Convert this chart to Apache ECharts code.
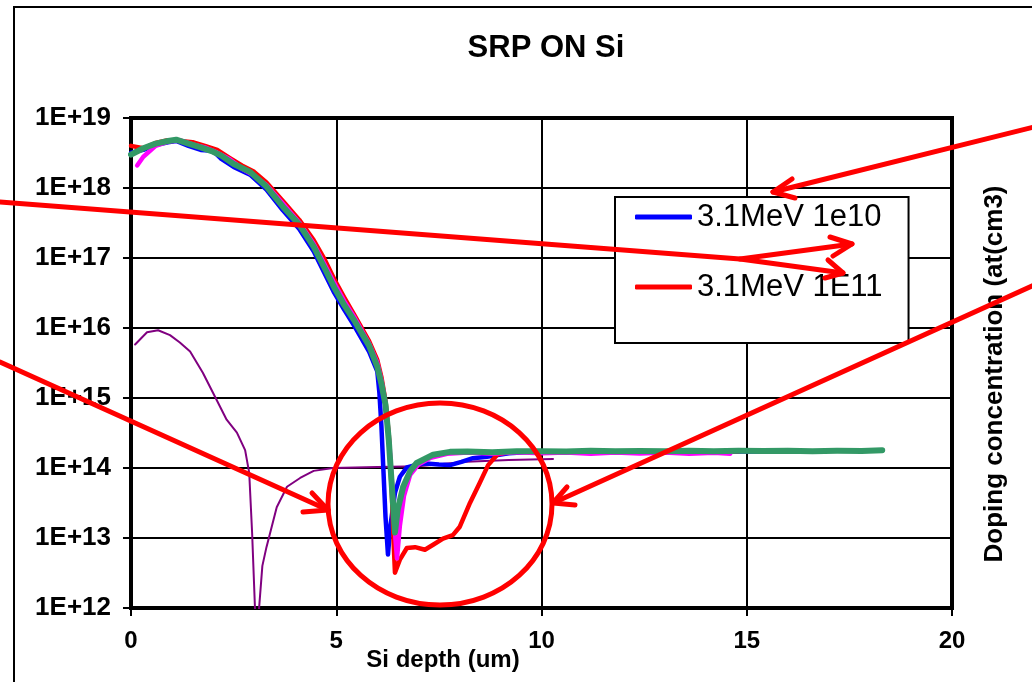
<!DOCTYPE html>
<html>
<head>
<meta charset="utf-8">
<script src="https://cdn.jsdelivr.net/npm/echarts@6/dist/echarts.min.js"></script>
<style>
html,body{margin:0;padding:0;background:#fff;}
#chart{width:1032px;height:682px;}
</style>
</head>
<body>
<div id="chart"></div>
<script>
// ---- data ----
const chartTitle = 'SRP ON Si';
const xAxisTitle = 'Si depth (um)';
const yAxisTitle = 'Doping concentration (at(cm3)';
const legendNames = ['3.1MeV 1e10', '3.1MeV 1E11'];

const blue1e10 = [[0,3.2e18],[0.3,3.5e18],[0.6,4.1e18],[0.9,4.5e18],[1.1,4.7e18],[1.4,4.0e18],[1.7,3.5e18],[2.0,3.4e18],[2.2,2.6e18],[2.5,2.0e18],[2.9,1.55e18],[3.3,9.5e17],[3.7,4.8e17],[4.1,2.6e17],[4.45,1.25e17],[4.7,6.3e16],[4.95,3.2e16],[5.2,1.8e16],[5.45,1.05e16],[5.8,4.6e15],[6.0,2.4e15],[6.05,1.2e15],[6.1,4e14],[6.15,9e13],[6.2,2e13],[6.26,5.8e12],[6.32,1.5e13],[6.43,4.4e13],[6.55,7.5e13],[6.72,1.02e14],[7.11,1.17e14],[7.5,1.12e14],[7.77,1.1e14],[8.05,1.22e14],[8.33,1.38e14],[8.67,1.45e14],[9.2,1.62e14],[9.8,1.7e14],[10.4,1.72e14],[11.0,1.69e14],[11.6,1.73e14],[12.2,1.7e14],[12.8,1.74e14],[13.4,1.71e14],[14.0,1.73e14],[14.6,1.7e14],[15.2,1.74e14],[15.8,1.71e14],[16.4,1.73e14],[16.9,1.7e14]];

const red1E11 = [[0,4.0e18],[0.3,3.7e18],[0.6,4.4e18],[0.9,4.8e18],[1.2,4.7e18],[1.5,4.5e18],[1.8,4.0e18],[2.1,3.5e18],[2.4,2.7e18],[2.7,2.1e18],[3.0,1.7e18],[3.3,1.2e18],[3.7,6.5e17],[4.1,3.5e17],[4.45,1.8e17],[4.7,1.0e17],[4.95,5.0e16],[5.2,2.7e16],[5.45,1.5e16],[5.8,6.5e15],[6.0,3.5e15],[6.1,2.0e15],[6.2,9e14],[6.28,3e14],[6.35,5e13],[6.4,8e12],[6.43,3.2e12],[6.55,4.9e12],[6.72,7.2e12],[6.92,7.4e12],[7.16,6.8e12],[7.36,8e12],[7.6,9.8e12],[7.84,1.1e13],[8.01,1.45e13],[8.26,3.2e13],[8.5,6.2e13],[8.7,1.1e14],[8.92,1.55e14],[9.2,1.7e14],[9.8,1.72e14],[10.4,1.7e14],[11.0,1.74e14],[11.6,1.71e14],[12.2,1.73e14],[12.8,1.7e14],[13.4,1.74e14],[14.0,1.72e14],[14.8,1.73e14]];

const magentaSeries = [[0.15,2.1e18],[0.3,2.8e18],[0.6,4.0e18],[0.9,4.6e18],[1.2,4.8e18],[1.5,4.2e18],[1.8,3.8e18],[2.1,3.2e18],[2.4,2.6e18],[2.7,1.9e18],[3.0,1.5e18],[3.3,1.1e18],[3.7,6.0e17],[4.1,3.2e17],[4.45,1.6e17],[4.7,8.5e16],[4.95,4.4e16],[5.2,2.4e16],[5.45,1.4e16],[5.8,6.0e15],[6.0,3.2e15],[6.1,1.8e15],[6.2,8.5e14],[6.3,2e14],[6.38,4e13],[6.44,1e13],[6.48,5.1e12],[6.55,1.5e13],[6.65,4e13],[6.8,8e13],[7.0,1.12e14],[7.3,1.4e14],[7.7,1.6e14],[8.2,1.66e14],[8.8,1.6e14],[9.4,1.68e14],[10.0,1.62e14],[10.6,1.67e14],[11.2,1.6e14],[11.8,1.66e14],[12.4,1.61e14],[13.0,1.67e14],[13.6,1.6e14],[14.2,1.65e14],[14.6,1.6e14]];

const greenSeries = [[0.0,3.0e18],[0.3,3.7e18],[0.6,4.3e18],[0.9,4.7e18],[1.1,4.9e18],[1.4,4.3e18],[1.7,3.8e18],[2.0,3.3e18],[2.2,2.9e18],[2.5,2.2e18],[2.9,1.7e18],[3.3,1.05e18],[3.7,5.4e17],[4.1,3.0e17],[4.45,1.45e17],[4.7,7.5e16],[4.95,3.8e16],[5.2,2.1e16],[5.45,1.25e16],[5.8,5.6e15],[6.0,2.8e15],[6.1,1.6e15],[6.2,8e14],[6.28,2.5e14],[6.35,6e13],[6.43,1.2e13],[6.5,2.6e13],[6.63,5.4e13],[6.8,9e13],[6.96,1.18e14],[7.36,1.55e14],[7.77,1.7e14],[8.2,1.72e14],[8.8,1.68e14],[9.4,1.73e14],[10.0,1.74e14],[10.6,1.72e14],[11.2,1.76e14],[11.8,1.73e14],[12.4,1.75e14],[13.0,1.74e14],[13.6,1.77e14],[14.2,1.74e14],[14.8,1.76e14],[15.4,1.75e14],[16.0,1.77e14],[16.6,1.74e14],[17.2,1.76e14],[17.8,1.75e14],[18.3,1.8e14]];

const purpleSeries = [[0.1,5.8e15],[0.39,8.7e15],[0.66,9.3e15],[0.95,7.9e15],[1.19,6.2e15],[1.44,4.6e15],[1.75,2.3e15],[2.09,9.3e14],[2.33,4.9e14],[2.58,3.2e14],[2.78,1.8e14],[2.88,8.5e13],[2.95,1.2e13],[3.03,7e11],[3.1,7e11],[3.2,4e12],[3.3,7.4e12],[3.55,2.75e13],[3.8,5.4e13],[4.12,7.2e13],[4.45,9.1e13],[4.92,1.0e14],[6.0,1.03e14],[7.0,1.06e14],[8.18,1.23e14],[9.2,1.3e14],[10.28,1.35e14]];

// ---- chart ----
const FONT = '"Liberation Sans", Arial, sans-serif';
const chart = echarts.init(document.getElementById('chart'), null, {renderer: 'canvas'});

function arrow(points, head) {
  return [
    {type: 'polyline', z: 100, shape: {points: points},
     style: {stroke: '#FF0000', lineWidth: 5, fill: null, lineCap: 'round', lineJoin: 'round'}},
    {type: 'polyline', z: 100, shape: {points: head},
     style: {stroke: '#FF0000', lineWidth: 5, fill: null, lineCap: 'round', lineJoin: 'round'}}
  ];
}

const graphics = [
  {type: 'rect', z: -1, shape: {x: 14, y: 7, width: 1100, height: 1000},
   style: {stroke: '#000', lineWidth: 2, fill: null}},
  {type: 'text', x: 546, y: 48, z: 50,
   style: {text: chartTitle, font: 'bold 31px ' + FONT, fill: '#000', textAlign: 'center', textVerticalAlign: 'middle'}},
  {type: 'text', x: 443, y: 660, z: 50,
   style: {text: xAxisTitle, font: 'bold 24px ' + FONT, fill: '#000', textAlign: 'center', textVerticalAlign: 'middle'}},
  {type: 'text', x: 995, y: 374, z: 50, rotation: Math.PI / 2,
   style: {text: yAxisTitle, font: 'bold 26px ' + FONT, fill: '#000', textAlign: 'center', textVerticalAlign: 'middle'}},
  {type: 'ellipse', z: 100, shape: {cx: 440, cy: 504, rx: 112, ry: 101},
   style: {stroke: '#FF0000', lineWidth: 5, fill: null}}
].concat(
  arrow([[0, 202], [740, 259], [852, 244]], [[830, 237], [852, 244], [833, 256]]),
  arrow([[740, 259], [843, 273]], [[828, 260], [843, 273], [825, 278]]),
  arrow([[1034, 127], [773, 192]], [[792, 179], [773, 192], [795, 198]]),
  arrow([[1034, 285], [553, 503]], [[567, 487], [553, 503], [575, 505]]),
  arrow([[0, 362], [328, 510]], [[312, 493], [328, 510], [303, 512]])
);

function lineSeries(name, data, color, width) {
  return {
    name: name, type: 'line', data: data, showSymbol: false, symbol: 'none',
    clip: true, smooth: false,
    lineStyle: {color: color, width: width, cap: 'round', join: 'round'},
    itemStyle: {color: color}
  };
}

const option = {
  animation: false,
  backgroundColor: '#fff',
  grid: {left: 131, top: 118, width: 821, height: 490, show: true,
         borderColor: '#000', borderWidth: 4, backgroundColor: 'transparent', containLabel: false},
  legend: {
    data: legendNames,
    left: 615, top: 197,
    orient: 'vertical',
    padding: [3, 26, 39, 20],
    itemGap: 36,
    itemWidth: 57, itemHeight: 5,
    icon: 'roundRect',
    backgroundColor: '#fff',
    borderColor: '#000', borderWidth: 2,
    textStyle: {fontFamily: FONT, fontSize: 31, color: '#000', lineHeight: 34},
    selectedMode: false
  },
  xAxis: {
    type: 'value', min: 0, max: 20, interval: 5,
    axisLine: {show: true, lineStyle: {color: '#000', width: 4}},
    axisTick: {show: true, length: 8, lineStyle: {color: '#000', width: 2}},
    axisLabel: {fontFamily: FONT, fontWeight: 'bold', fontSize: 24, color: '#000', margin: 21},
    splitLine: {show: true, lineStyle: {color: '#000', width: 2}}
  },
  yAxis: {
    type: 'log', logBase: 10, min: 1e12, max: 1e19,
    axisLine: {show: true, lineStyle: {color: '#000', width: 4}},
    axisTick: {show: true, length: 8, lineStyle: {color: '#000', width: 2}},
    axisLabel: {fontFamily: FONT, fontWeight: 'bold', fontSize: 26, color: '#000', margin: 20,
      formatter: function (v) { return '1E+' + Math.round(Math.log10(v)); }},
    splitLine: {show: true, lineStyle: {color: '#000', width: 2}},
    minorTick: {show: false}
  },
  series: [
    lineSeries('purple', purpleSeries, '#800080', 2),
    lineSeries(legendNames[0], blue1e10, '#0000FF', 4.5),
    lineSeries(legendNames[1], red1E11, '#FF0000', 4.5),
    lineSeries('magenta', magentaSeries, '#FF00FF', 4.5),
    lineSeries('green', greenSeries, '#339966', 6)
  ],
  graphic: graphics
};
chart.setOption(option);
</script>
</body>
</html>
